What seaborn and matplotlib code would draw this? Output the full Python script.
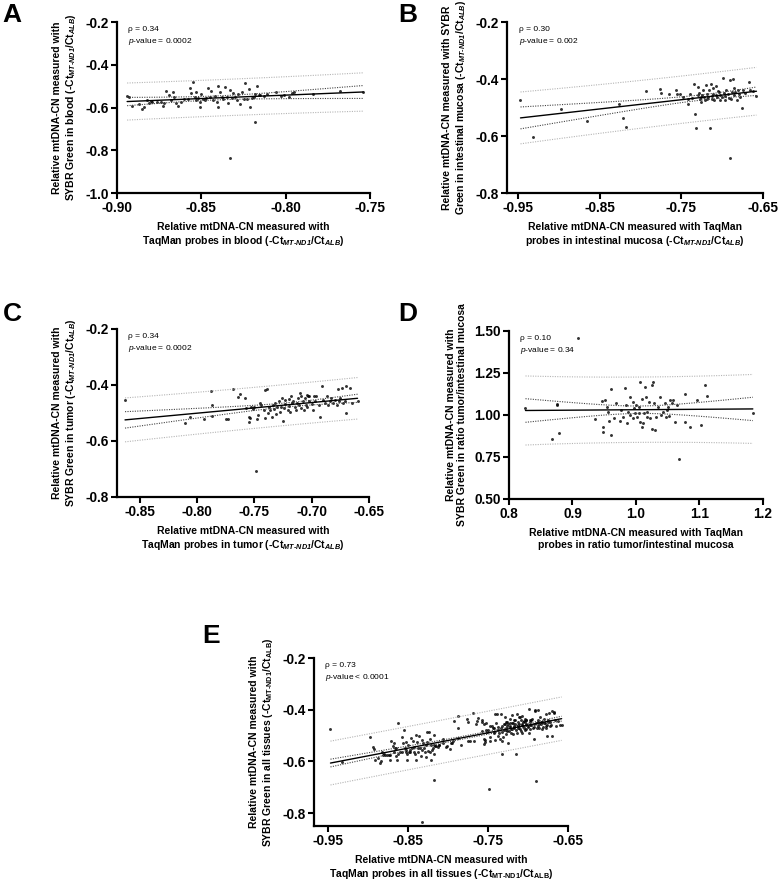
import numpy as np
import matplotlib
matplotlib.use("Agg")
import matplotlib.pyplot as plt
import seaborn as sns

# --- Daten ---------------------------------------------------------------
blood_x = [-0.894, -0.893, -0.891, -0.887, -0.885, -0.884, -0.882, -0.881, -0.880, -0.879,
           -0.876, -0.874, -0.873, -0.872, -0.871, -0.869, -0.868, -0.867, -0.866, -0.865,
           -0.864, -0.862, -0.860, -0.858, -0.857, -0.856, -0.855, -0.854, -0.853, -0.853,
           -0.852, -0.851, -0.851, -0.850, -0.849, -0.848, -0.847, -0.846, -0.845, -0.844,
           -0.843, -0.842, -0.841, -0.840, -0.840, -0.839, -0.838, -0.837, -0.836, -0.835,
           -0.834, -0.833, -0.832, -0.831, -0.830, -0.829, -0.828, -0.827, -0.826, -0.825,
           -0.824, -0.823, -0.822, -0.821, -0.820, -0.819, -0.818, -0.817, -0.816, -0.815,
           -0.813, -0.811, -0.806, -0.803, -0.801, -0.798, -0.796, -0.795, -0.784, -0.768,
           -0.754, -0.818, -0.833]
blood_y = [-0.544, -0.552, -0.593, -0.585, -0.607, -0.599, -0.565, -0.577, -0.570, -0.576,
           -0.576, -0.574, -0.593, -0.577, -0.521, -0.541, -0.565, -0.529, -0.549, -0.581,
           -0.593, -0.573, -0.562, -0.562, -0.507, -0.530, -0.479, -0.549, -0.565, -0.526,
           -0.557, -0.573, -0.596, -0.537, -0.562, -0.565, -0.557, -0.510, -0.549, -0.521,
           -0.565, -0.546, -0.573, -0.596, -0.499, -0.526, -0.549, -0.562, -0.502, -0.549,
           -0.581, -0.518, -0.554, -0.530, -0.549, -0.565, -0.537, -0.584, -0.526, -0.560,
           -0.487, -0.562, -0.515, -0.596, -0.554, -0.549, -0.537, -0.499, -0.541, -0.541,
           -0.545, -0.537, -0.527, -0.545, -0.540, -0.552, -0.530, -0.527, -0.538, -0.521,
           -0.526, -0.670, -0.836]

mucosa_x = [-0.947, -0.932, -0.898, -0.865, -0.826, -0.821, -0.818, -0.793, -0.776, -0.775,
            -0.765, -0.757, -0.755, -0.752, -0.748, -0.742, -0.737, -0.734, -0.733, -0.732,
            -0.729, -0.728, -0.727, -0.726, -0.725, -0.723, -0.722, -0.721, -0.720, -0.719,
            -0.717, -0.716, -0.715, -0.714, -0.713, -0.711, -0.711, -0.710, -0.708, -0.707,
            -0.706, -0.705, -0.703, -0.703, -0.700, -0.699, -0.698, -0.697, -0.695, -0.693,
            -0.691, -0.690, -0.689, -0.688, -0.687, -0.686, -0.685, -0.682, -0.680, -0.679,
            -0.678, -0.676, -0.675, -0.672, -0.667, -0.666, -0.662, -0.658, -0.742, -0.730,
            -0.718, -0.712, -0.704, -0.696, -0.692, -0.684, -0.740, -0.726]
mucosa_y = [-0.474, -0.604, -0.505, -0.548, -0.487, -0.537, -0.570, -0.443, -0.434, -0.449,
            -0.454, -0.440, -0.454, -0.452, -0.463, -0.487, -0.466, -0.416, -0.522, -0.572,
            -0.428, -0.449, -0.469, -0.481, -0.457, -0.437, -0.463, -0.475, -0.422, -0.452,
            -0.463, -0.440, -0.572, -0.416, -0.469, -0.454, -0.430, -0.475, -0.457, -0.425,
            -0.463, -0.442, -0.475, -0.456, -0.463, -0.398, -0.449, -0.473, -0.437, -0.454,
            -0.402, -0.676, -0.469, -0.446, -0.400, -0.457, -0.430, -0.475, -0.437, -0.452,
            -0.463, -0.501, -0.440, -0.449, -0.410, -0.440, -0.442, -0.461, -0.470, -0.455,
            -0.470, -0.460, -0.446, -0.458, -0.466, -0.446, -0.452, -0.462]

tumor_x = [-0.863, -0.811, -0.806, -0.794, -0.788, -0.787, -0.787, -0.775, -0.773, -0.769,
           -0.764, -0.763, -0.758, -0.757, -0.755, -0.755, -0.754, -0.753, -0.751, -0.750,
           -0.749, -0.748, -0.747, -0.745, -0.744, -0.742, -0.741, -0.741, -0.739, -0.738,
           -0.737, -0.736, -0.735, -0.734, -0.733, -0.732, -0.731, -0.730, -0.729, -0.728,
           -0.727, -0.726, -0.725, -0.724, -0.723, -0.723, -0.721, -0.720, -0.720, -0.719,
           -0.718, -0.717, -0.716, -0.715, -0.714, -0.713, -0.712, -0.711, -0.710, -0.709,
           -0.709, -0.708, -0.707, -0.706, -0.705, -0.704, -0.704, -0.703, -0.702, -0.702,
           -0.700, -0.699, -0.698, -0.697, -0.696, -0.694, -0.693, -0.691, -0.690, -0.688,
           -0.687, -0.686, -0.684, -0.683, -0.681, -0.680, -0.678, -0.677, -0.676, -0.675,
           -0.674, -0.673, -0.671, -0.670, -0.670, -0.667, -0.665, -0.660]
tumor_y = [-0.453, -0.537, -0.515, -0.521, -0.423, -0.471, -0.510, -0.521, -0.521, -0.414,
           -0.444, -0.432, -0.447, -0.483, -0.531, -0.513, -0.519, -0.477, -0.487, -0.477,
           -0.706, -0.522, -0.507, -0.463, -0.471, -0.489, -0.417, -0.519, -0.415, -0.501,
           -0.479, -0.491, -0.513, -0.471, -0.487, -0.463, -0.504, -0.477, -0.456, -0.495,
           -0.477, -0.447, -0.527, -0.483, -0.467, -0.453, -0.489, -0.450, -0.475, -0.495,
           -0.441, -0.465, -0.456, -0.479, -0.489, -0.463, -0.447, -0.471, -0.429, -0.483,
           -0.438, -0.459, -0.489, -0.447, -0.471, -0.435, -0.479, -0.441, -0.459, -0.441,
           -0.467, -0.489, -0.438, -0.459, -0.441, -0.471, -0.513, -0.405, -0.453, -0.463,
           -0.441, -0.471, -0.456, -0.447, -0.465, -0.453, -0.471, -0.415, -0.459, -0.447,
           -0.411, -0.463, -0.459, -0.501, -0.405, -0.411, -0.463, -0.459]

ratio_x = [0.826, 0.867, 0.875, 0.876, 0.879, 0.908, 0.935, 0.946, 0.948, 0.948,
           0.951, 0.954, 0.956, 0.958, 0.960, 0.961, 0.965, 0.969, 0.975, 0.977,
           0.980, 0.983, 0.984, 0.986, 0.988, 0.990, 0.991, 0.995, 0.996, 0.997,
           0.998, 1.000, 1.001, 1.004, 1.005, 1.006, 1.007, 1.009, 1.010, 1.011,
           1.013, 1.014, 1.016, 1.017, 1.018, 1.021, 1.022, 1.025, 1.026, 1.027,
           1.028, 1.030, 1.031, 1.034, 1.038, 1.040, 1.042, 1.046, 1.047, 1.049,
           1.051, 1.052, 1.054, 1.056, 1.058, 1.061, 1.064, 1.068, 1.077, 1.077,
           1.085, 1.096, 1.102, 1.109, 1.112, 1.184]
ratio_y = [1.040, 0.855, 1.065, 1.060, 0.891, 1.456, 0.974, 1.085, 0.931, 0.901,
           1.089, 1.050, 1.020, 0.966, 1.155, 0.881, 0.980, 1.073, 0.966, 1.030,
           0.990, 1.159, 1.060, 0.954, 1.020, 1.000, 1.109, 0.980, 1.079, 1.040,
           1.010, 1.060, 0.990, 1.014, 1.050, 0.960, 1.198, 0.931, 1.093, 0.950,
           1.010, 1.165, 1.109, 0.990, 1.020, 1.079, 0.980, 1.179, 0.915, 1.198,
           1.069, 0.911, 0.990, 1.050, 1.109, 1.000, 1.020, 1.069, 0.990, 1.030,
           1.050, 0.994, 1.089, 1.069, 1.089, 0.960, 1.060, 0.738, 1.125, 0.960,
           0.927, 1.089, 0.940, 1.179, 1.113, 1.014]

# Panel E: alle Gewebe zusammen
all_x = blood_x + mucosa_x + tumor_x
all_y = blood_y + mucosa_y + tumor_y

sns.set_theme(style="ticks")
plt.rcParams["font.family"] = ["Liberation Sans", "DejaVu Sans"]
plt.rcParams["text.color"] = "black"
plt.rcParams["axes.labelcolor"] = "black"
plt.rcParams["xtick.color"] = "black"
plt.rcParams["ytick.color"] = "black"
plt.rcParams["axes.unicode_minus"] = False
plt.rcParams["mathtext.fontset"] = "custom"
plt.rcParams["mathtext.rm"] = "Liberation Sans"
plt.rcParams["mathtext.it"] = "Liberation Sans:italic"
plt.rcParams["mathtext.bf"] = "Liberation Sans:bold"
plt.rcParams["mathtext.bfit"] = "Liberation Sans:italic:bold"

SUB_IT = r"(-Ct$_{\mathbfit{MT‐ND1}}$/Ct$_{\mathbfit{ALB}}$)"
SUB_RM = r"(-Ct$_{\mathbf{MT‐ND1}}$/Ct$_{\mathbf{ALB}}$)"


def draw_bands(ax, x, y):
    """95%-Konfidenzband (dunkel) und Vorhersageband (hell), gepunktet."""
    x = np.asarray(x)
    y = np.asarray(y)
    n = len(x)
    b, a = np.polyfit(x, y, 1)
    resid = y - (a + b * x)
    s = np.sqrt(np.sum(resid ** 2) / (n - 2))
    xm = x.mean()
    sxx = np.sum((x - xm) ** 2)
    xs = np.linspace(x.min(), x.max(), 100)
    fit = a + b * xs
    t = 1.98
    ci = t * s * np.sqrt(1 / n + (xs - xm) ** 2 / sxx)
    pi = t * s * np.sqrt(1 + 1 / n + (xs - xm) ** 2 / sxx)
    for band, col in [(ci, "#444444"), (pi, "#b5b5b5")]:
        ax.plot(xs, fit + band, color=col, lw=0.8, ls=(0, (1, 1.2)))
        ax.plot(xs, fit - band, color=col, lw=0.8, ls=(0, (1, 1.2)))


def draw_panel(rect, x, y, xlim, ylim, xticks, yticks, xfmt, yfmt,
               xlabel, ylabel, rho, pval):
    ax = fig.add_axes(rect)
    sns.regplot(x=x, y=y, ax=ax, ci=None, truncate=True,
                scatter_kws={"s": 4.5, "color": "black", "linewidths": 0},
                line_kws={"color": "black", "lw": 1.0})
    draw_bands(ax, x, y)
    ax.set_xlim(*xlim)
    ax.set_ylim(*ylim)
    ax.set_xticks(xticks)
    ax.set_yticks(yticks)
    ax.set_xticklabels([xfmt % v for v in xticks], fontweight="bold", fontsize=9.8)
    ax.set_yticklabels([yfmt % v for v in yticks], fontweight="bold", fontsize=9.8)
    ax.tick_params(width=1.5, length=4, pad=2, color="black")
    for side in ["left", "bottom"]:
        ax.spines[side].set_linewidth(1.6)
        ax.spines[side].set_color("black")
    sns.despine(ax=ax)
    ax.set_xlabel(xlabel, fontweight="bold", fontsize=7.5, labelpad=5)
    ax.set_ylabel(ylabel, fontweight="bold", fontsize=7.5, labelpad=5)
    ax.text(0.045, 0.955, f"ρ = {rho}", transform=ax.transAxes,
            fontsize=6, va="center", ha="left")
    ax.text(0.045, 0.885, r"$p$" + f"-value {pval}", transform=ax.transAxes,
            fontsize=6, va="center", ha="left")
    return ax


fig = plt.figure(figsize=(7.78, 8.81), dpi=100)

draw_panel([0.1504, 0.7809, 0.3252, 0.1941], blood_x, blood_y,
           (-0.90, -0.75), (-1.0, -0.2),
           [-0.90, -0.85, -0.80, -0.75], [-1.0, -0.8, -0.6, -0.4, -0.2], "%.2f", "%.1f",
           "Relative mtDNA-CN measured with\nTaqMan probes in blood " + SUB_IT,
           "Relative mtDNA-CN measured with\nSYBR Green in blood " + SUB_IT,
           "0.34", "= 0.0002")

draw_panel([0.6517, 0.7809, 0.3290, 0.1941], mucosa_x, mucosa_y,
           (-0.9635, -0.65), (-0.8, -0.2),
           [-0.95, -0.85, -0.75, -0.65], [-0.8, -0.6, -0.4, -0.2], "%.2f", "%.1f",
           "Relative mtDNA-CN measured with TaqMan\nprobes in intestinal mucosa " + SUB_IT,
           "Relative mtDNA-CN measured with SYBR\nGreen in intestinal mucosa " + SUB_IT,
           "0.30", "= 0.002")

draw_panel([0.1504, 0.4359, 0.3239, 0.1907], tumor_x, tumor_y,
           (-0.870, -0.65), (-0.8, -0.2),
           [-0.85, -0.80, -0.75, -0.70, -0.65], [-0.8, -0.6, -0.4, -0.2], "%.2f", "%.1f",
           "Relative mtDNA-CN measured with\nTaqMan probes in tumor " + SUB_IT,
           "Relative mtDNA-CN measured with\nSYBR Green in tumor " + SUB_IT,
           "0.34", "= 0.0002")

draw_panel([0.6542, 0.4336, 0.3265, 0.1907], ratio_x, ratio_y,
           (0.8, 1.2), (0.5, 1.5),
           [0.8, 0.9, 1.0, 1.1, 1.2], [0.50, 0.75, 1.00, 1.25, 1.50], "%.1f", "%.2f",
           "Relative mtDNA-CN measured with TaqMan\nprobes in ratio tumor/intestinal mucosa",
           "Relative mtDNA-CN measured with\nSYBR Green in ratio tumor/intestinal mucosa",
           "0.10", "= 0.34")

draw_panel([0.4036, 0.0624, 0.3265, 0.1907], all_x, all_y,
           (-0.9676, -0.65), (-0.85, -0.2),
           [-0.95, -0.85, -0.75, -0.65], [-0.8, -0.6, -0.4, -0.2], "%.2f", "%.1f",
           "Relative mtDNA-CN measured with\nTaqMan probes in all tissues " + SUB_RM,
           "Relative mtDNA-CN measured with\nSYBR Green in all tissues " + SUB_RM,
           "0.73", "< 0.0001")

# Panel-Buchstaben
for letter, px, py in [("A", 2, 3), ("B", 398, 3), ("C", 3, 302),
                       ("D", 398, 302), ("E", 202, 624)]:
    fig.text(px / 778, 1 - py / 881, letter, fontsize=19, fontweight="bold",
             ha="left", va="top")

fig.savefig("out.png", dpi=100)
